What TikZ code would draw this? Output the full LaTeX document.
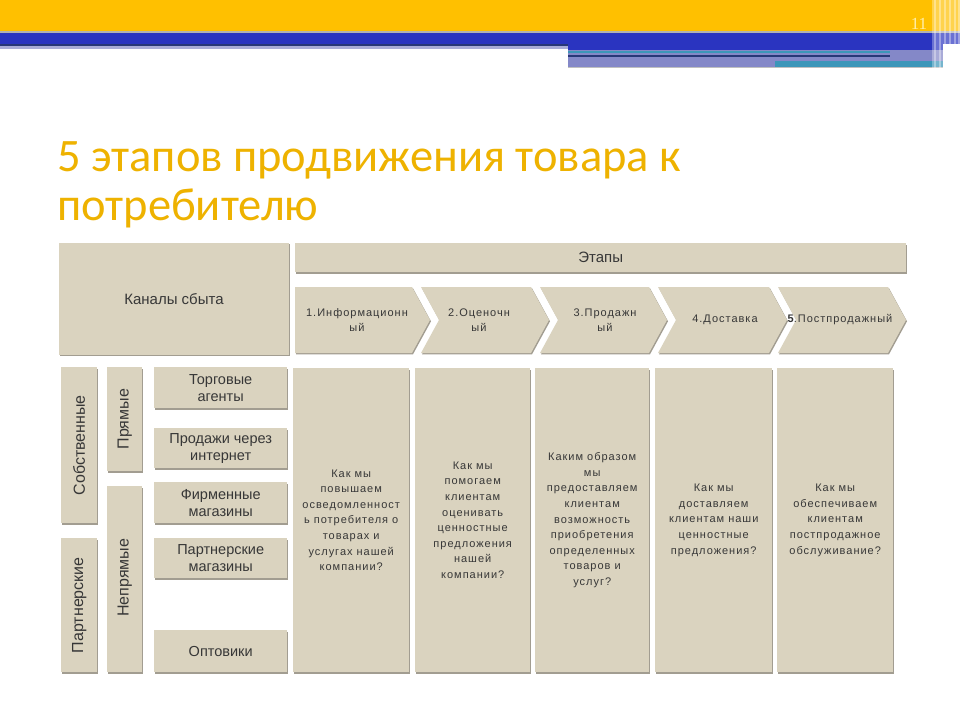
\documentclass[tikz,border=0pt]{standalone}
\usepackage{fontspec}
\setmainfont{Liberation Sans}
\newfontfamily\titlefont{Carlito}
\newfontfamily\numfont{Liberation Serif}
\newfontfamily\smallfont[LetterSpace=9]{Liberation Sans}
\usetikzlibrary{shadows}
\definecolor{boxc}{RGB}{218,211,191}
\definecolor{shadowc}{RGB}{162,157,145}
\definecolor{txtc}{RGB}{55,55,55}
\definecolor{barY}{RGB}{255,192,0}
\definecolor{barB}{RGB}{42,52,192}
\definecolor{navyc}{RGB}{40,55,120}
\definecolor{lavc}{RGB}{132,136,200}
\definecolor{tealc}{RGB}{60,150,185}
\definecolor{titlec}{RGB}{238,178,0}
\definecolor{numc}{RGB}{255,238,170}
\tikzset{
  boxsh/.style={drop shadow={shadow xshift=1pt, shadow yshift=-1.3pt, fill=shadowc, opacity=1}},
  box/.style={fill=boxc, inner sep=0pt, anchor=north west, text=txtc, align=center, boxsh},
  lbl/.style={font=\fontsize{14.5}{17}\selectfont},
  hdr/.style={font=\fontsize{15}{17}\selectfont},
  vlbl/.style={font=\fontsize{16}{18}\selectfont, rotate=90, anchor=center, text=txtc, inner sep=0pt},
  qtext/.style={font=\smallfont\fontsize{11}{15.6}\selectfont},
  ctext/.style={font=\smallfont\fontsize{11}{14.5}\selectfont, text=txtc, align=center, inner sep=0pt},
  chevst/.style={fill=boxc, boxsh},
  titlest/.style={font=\titlefont\fontsize{46.5}{50}\selectfont, text=titlec, anchor=base west, inner sep=0pt}
}
\begin{document}
\begin{tikzpicture}[x=1pt,y=-1pt]
\useasboundingbox (0,0) rectangle (960,720);
\fill[white] (0,0) rectangle (960,720);
% top bars
\fill[barY] (0,0) rectangle (960,31.5);
\fill[gray!60] (0,31) rectangle (960,32.5);
\fill[barB] (0,32.5) rectangle (960,44);
\fill[navyc] (0,44) rectangle (568,45.5);
\fill[lavc!70] (0,45.5) rectangle (568,48.5);
\fill[barB] (568,44) rectangle (943,50);
\fill[lavc] (568,50) rectangle (943,66.5);
\fill[tealc] (568,51) rectangle (890,53);
\fill[navyc] (568,54.5) rectangle (890,57);
\fill[tealc] (775,61) rectangle (943,66.5);
\fill[gray!50] (568,66.5) rectangle (943,68);
\fill[white, opacity=0.3] (932,0) rectangle (960,68);
\foreach \xx in {934,939,944,949,954,958}
  \fill[white, opacity=0.35] (\xx,0) rectangle (\xx+1.5,68);
\node[font=\numfont\fontsize{17}{17}\selectfont, text=numc, anchor=base, inner sep=0pt] (pnum) at (919,29) {11};
% title
\node[titlest] (title1) at (57,171) {5 этапов продвижения товара к};
\node[titlest] (title2) at (57,220) {потребителю};
% header boxes
\node[box, hdr, minimum width=230pt, minimum height=112pt, anchor=center] (kanaly) at (174,299) {Каналы сбыта};
\node[box, hdr, minimum width=611pt, minimum height=29pt] (etapy) at (295,243) {Этапы};
% chevrons
\fill[chevst] (295,287) -- (412,287) -- (430,320) -- (412,353) -- (295,353) -- cycle;
\node[ctext] (c1) at (357,320) {1.Информационн\\ый};
\fill[chevst] (421,287) -- (531,287) -- (549,320) -- (531,353) -- (421,353) -- (439,320) -- cycle;
\node[ctext] (c2) at (479,320) {2.Оценочн\\ый};
\fill[chevst] (540,287) -- (649,287) -- (667,320) -- (649,353) -- (540,353) -- (558,320) -- cycle;
\node[ctext] (c3) at (605,320) {3.Продажн\\ый};
\fill[chevst] (658,287) -- (769,287) -- (787,320) -- (769,353) -- (658,353) -- (676,320) -- cycle;
\node[ctext] (c4) at (725,320) {4.Доставка};
\fill[chevst] (778,287) -- (888,287) -- (906,320) -- (888,353) -- (778,353) -- (796,320) -- cycle;
\node[ctext] (c5) at (840,320) {\textbf{5}.Постпродажный};
% vertical channel boxes
\node[box, minimum width=36pt, minimum height=156pt] (sob) at (61,367) {};
\node[vlbl] (sobt) at (sob.center) {Собственные};
\node[box, minimum width=36pt, minimum height=134pt] (part) at (61,538) {};
\node[vlbl] (partt) at (part.center) {Партнерские};
\node[box, minimum width=35pt, minimum height=104pt] (pryam) at (107,367) {};
\node[vlbl] (pryamt) at (pryam.center) {Прямые};
\node[box, minimum width=35pt, minimum height=186pt] (nepr) at (107,486) {};
\node[vlbl] (neprt) at ([yshift=1.5pt]nepr.center) {Непрямые};
% channel boxes
\node[box, lbl, minimum width=133pt, minimum height=41pt] (torg) at (154,367) {Торговые\\агенты};
\node[box, lbl, minimum width=133pt, minimum height=40pt] (prod) at (154,428) {Продажи через\\интернет};
\node[box, lbl, minimum width=133pt, minimum height=41pt] (firm) at (154,482) {Фирменные\\магазины};
\node[box, lbl, minimum width=133pt, minimum height=40pt] (partm) at (154,538) {Партнерские\\магазины};
\node[box, lbl, minimum width=133pt, minimum height=42pt] (opt) at (154,630) {Оптовики};
% question columns
\node[box, qtext, minimum width=116pt, minimum height=304pt] (q1) at (293,368) {Как мы\\повышаем\\осведомленност\\ь потребителя о\\товарах и\\услугах нашей\\компании?};
\node[box, qtext, minimum width=115pt, minimum height=304pt] (q2) at (415,368) {Как мы\\помогаем\\клиентам\\оценивать\\ценностные\\предложения\\нашей\\компании?};
\node[box, qtext, minimum width=114pt, minimum height=304pt] (q3) at (535,368) {Каким образом\\мы\\предоставляем\\клиентам\\возможность\\приобретения\\определенных\\товаров и\\услуг?};
\node[box, qtext, minimum width=117pt, minimum height=304pt] (q4) at (655,368) {Как мы\\доставляем\\клиентам наши\\ценностные\\предложения?};
\node[box, qtext, minimum width=116pt, minimum height=304pt] (q5) at (777,368) {Как мы\\обеспечиваем\\клиентам\\постпродажное\\обслуживание?};
\end{tikzpicture}
\end{document}
